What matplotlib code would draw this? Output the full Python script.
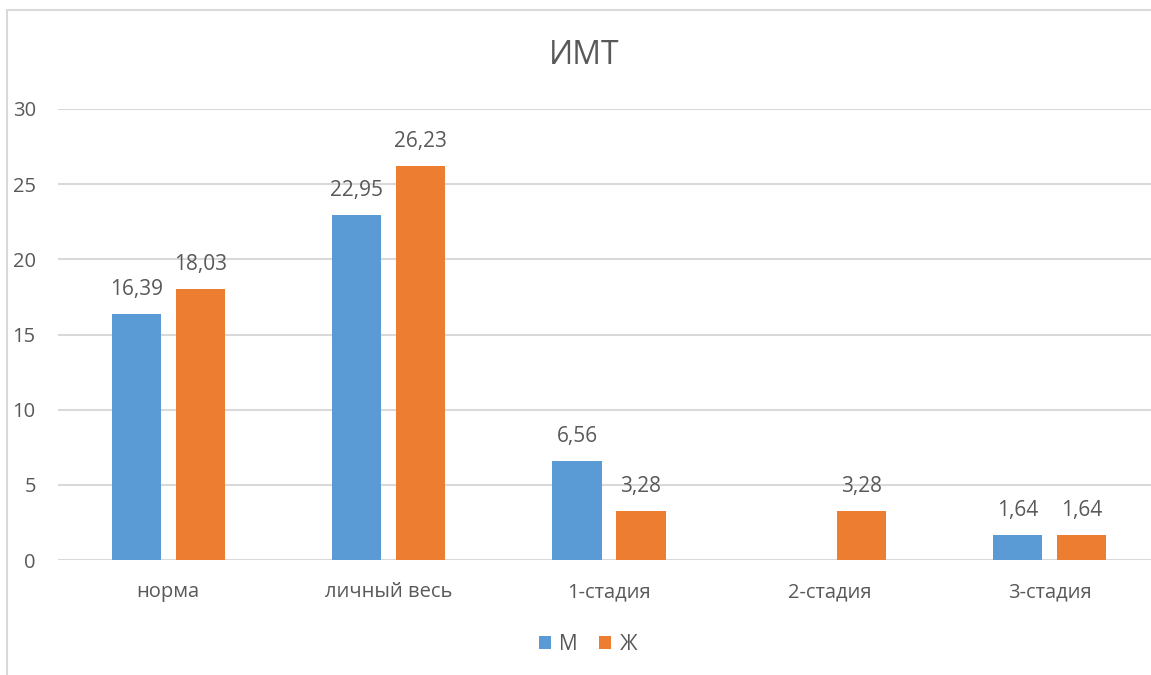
import matplotlib
matplotlib.use("Agg")
import matplotlib.pyplot as plt
import numpy as np
from matplotlib.patches import Rectangle

categories = ["норма", "личный весь", "1-стадия", "2-стадия", "3-стадия"]
men = [16.39, 22.95, 6.56, None, 1.64]
women = [18.03, 26.23, 3.28, 3.28, 1.64]
series_names = ["М", "Ж"]
title = "ИМТ"

BLUE = "#5b9bd5"
ORANGE = "#ed7d31"
TEXT = "#595959"
GRID = "#d9d9d9"

plt.rcParams["font.family"] = ["Open Sans", "DejaVu Sans"]

W, H = 1151, 675
fig = plt.figure(figsize=(W / 100, H / 100), dpi=100)
fig.patch.set_facecolor("white")

# chart frame (left and top edges visible)
fig.add_artist(Rectangle((7.5 / W, -0.1), 1.2, (H - 10) / H + 0.1, transform=fig.transFigure,
                         fill=False, edgecolor=GRID, linewidth=1.5))

x0, x1 = 58, 1160
y0, y1 = 560, 109
ax = fig.add_axes([x0 / W, 1 - y0 / H, (x1 - x0) / W, (y0 - y1) / H])
ax.set_xlim(-0.5, len(categories) - 0.5)
ax.set_ylim(0, 30)
ax.set_yticks(range(0, 31, 5))
ax.yaxis.grid(True, color=GRID, linewidth=1.5)
ax.set_axisbelow(True)
for s in ax.spines.values():
    s.set_visible(False)
ax.tick_params(axis="both", length=0, labelsize=14.5, labelcolor=TEXT)
ax.tick_params(axis="y", pad=16)
ax.tick_params(axis="x", pad=16)

x = np.arange(len(categories))
bw = 0.223
off = 0.145
m_vals = [v if v is not None else 0 for v in men]
b1 = ax.bar(x - off, m_vals, bw, color=BLUE, label=series_names[0])
b2 = ax.bar(x + off, women, bw, color=ORANGE, label=series_names[1])

def fmt(v):
    return f"{v:.2f}".replace(".", ",")

for xi, v in zip(x, men):
    if v is not None:
        ax.annotate(fmt(v), (xi - off, v), xytext=(0, 10), textcoords="offset points",
                    ha="center", va="bottom", fontsize=15, color=TEXT)
for xi, v in zip(x, women):
    ax.annotate(fmt(v), (xi + off, v), xytext=(0, 10), textcoords="offset points",
                ha="center", va="bottom", fontsize=15, color=TEXT)

ax.set_xticks(x)
ax.set_xticklabels(categories)

fig.text(584 / W, 1 - 55 / H, title, ha="center", va="center", fontsize=23, color=TEXT)

leg = fig.legend(handles=[b1, b2], loc="center", bbox_to_anchor=(588 / W, 1 - 644 / H),
                 ncol=2, frameon=False, fontsize=15, handlelength=0.6, handleheight=0.6,
                 handletextpad=0.4, columnspacing=1.0, labelcolor=TEXT)

fig.savefig("out.png", dpi=100, facecolor="white")
